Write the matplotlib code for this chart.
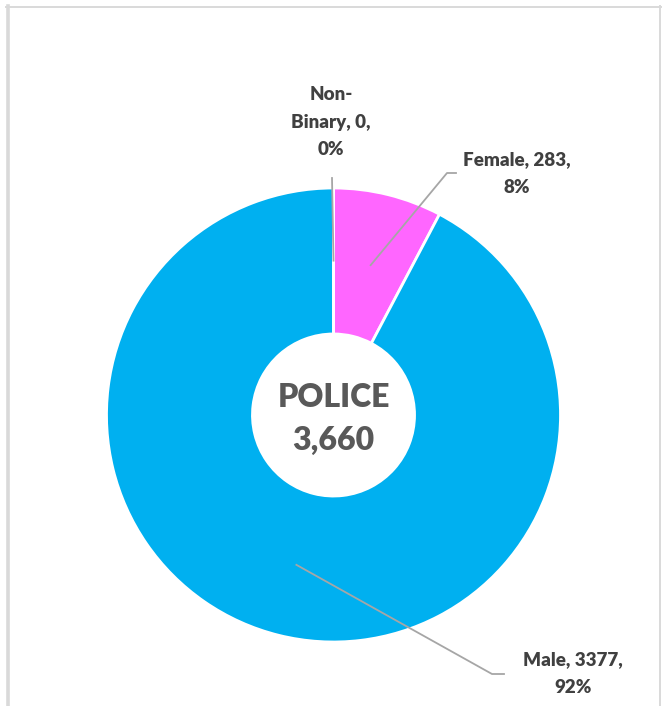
import numpy as np
import matplotlib
matplotlib.use("Agg")
import matplotlib.pyplot as plt
from matplotlib.lines import Line2D

# Police headcount by gender
categories = ["Female", "Male", "Non-Binary"]
counts = [283, 3377, 0]
percent_labels = ["8%", "92%", "0%"]
total_label = "3,660"
centre_title = "POLICE"
colors = ["#FF66FF", "#00B0F0", "#A5A5A5"]

W, H = 665, 706
R_PX = 227.0
CX, CY = 333.5, 415.0

fig = plt.figure(figsize=(W / 100, H / 100), dpi=100)
ax = fig.add_axes([0, 0, 1, 1])

wedges, _ = ax.pie(counts, colors=colors, startangle=90, counterclock=False,
                   radius=1.0, wedgeprops=dict(width=0.643, edgecolor="white",
                                               linewidth=2.0))

ax.set_xlim(-CX / R_PX, (W - CX) / R_PX)
ax.set_ylim(-(H - CY) / R_PX, CY / R_PX)
ax.set_aspect("equal")
ax.axis("off")


def px(x, y):
    return (x - CX) / R_PX, (CY - y) / R_PX


label_font = dict(family=["Lato", "DejaVu Sans"], fontweight="heavy",
                  fontsize=13.5, color="#404040", ha="center", va="center",
                  linespacing=1.78)
lead = dict(color="#A6A6A6", lw=1.3)

# label text, label anchor (pixel), leader elbow (pixel)
label_specs = [
    ("Female, {v},\n{p}", (517, 174), [(447, 173), (456, 173)]),
    ("Male, {v},\n{p}", (573, 674), [(492, 674), (504, 674)]),
    ("Non-\nBinary, {v},\n{p}", (331, 122), [(332, 178)]),
]

for w, (fmt, anchor, elbow), v, p in zip(wedges, label_specs, counts, percent_labels):
    mid = np.deg2rad((w.theta1 + w.theta2) / 2)
    r0 = 0.68
    start = (r0 * np.cos(mid), r0 * np.sin(mid))
    pts = [start] + [px(*e) for e in elbow]
    xs, ys = zip(*pts)
    ax.add_line(Line2D(xs, ys, **lead))
    ax.text(*px(*anchor), fmt.format(v=v, p=p), **label_font)

centre_font = dict(family=["Lato", "DejaVu Sans"], fontweight="heavy",
                   color="#595959", ha="center", va="center", fontsize=23)
ax.text(0, px(0, 397)[1], centre_title, **centre_font)
ax.text(0, px(0, 440)[1], total_label, **centre_font)

# chart frame
frame = "#D9D9D9"
fig.add_artist(Line2D([8 / W, 8 / W], [0, 1 - 6 / H], color=frame, lw=2.6,
                      transform=fig.transFigure))
fig.add_artist(Line2D([6 / W, 661 / W], [1 - 6.5 / H, 1 - 6.5 / H], color=frame,
                      lw=1.4, transform=fig.transFigure))
fig.add_artist(Line2D([660 / W, 660 / W], [0, 1 - 6 / H], color=frame, lw=1.4,
                      transform=fig.transFigure))

fig.savefig("out.png", dpi=100, facecolor="white")
